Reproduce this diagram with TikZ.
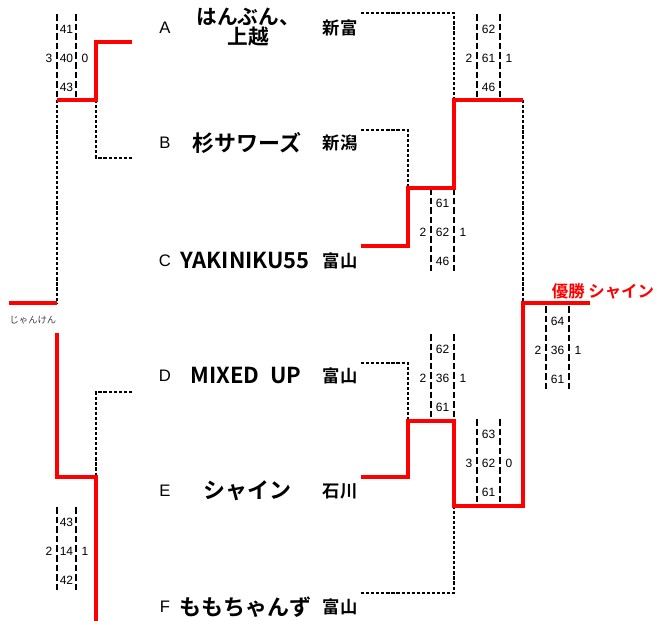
\documentclass[tikz,border=0pt]{standalone}
\usepackage{fontspec}
\setmainfont{Liberation Sans}
\newfontfamily\jpbold{Noto Sans CJK JP Bold}
\newfontfamily\jpreg{Noto Sans CJK JP}
\newcommand{\sz}[1]{\fontsize{#1}{#1}\selectfont}

\begin{document}
\begin{tikzpicture}[x=0.75pt,y=-0.75pt,
	win/.style={draw=red,line width=2.3pt},
	lose/.style={draw=black,line width=1.1pt,dash pattern=on 2.4pt off 1.4pt},
	rule/.style={draw=black,line width=1.6pt,dash pattern=on 5pt off 2.2pt},
	letter/.style={inner sep=0pt,font=\sz{12.5}},
	team/.style={inner sep=0pt,align=center,font=\jpbold\sz{16.5}},
	pref/.style={inner sep=0pt,font=\jpbold\sz{13}},
	num/.style={inner sep=0pt,font=\sz{9}}]
\useasboundingbox (0,0) rectangle (658,621);

% teams
\foreach \t/\y/\p in {A/28/新富,B/143/新潟,C/261/富山,D/376/富山,E/491/石川,F/607/富山}{
	\node[letter] (l\t) at (165,\y) {\t};
	\node[pref] (p\t) at (340,\y) {\p};
}
\node[team,font=\jpbold\sz{15.5}] (tA) at (248,27) {はんぶん、\\上越};
\node[team] (tB) at (247,143) {杉サワーズ};
\node[team] (tC) at (245,261) {YAKINIKU55};
\node[team] (tD) at (246,376) {MIXED\hspace{0.5em}UP};
\node[team] (tE) at (247,491) {シャイン};
\node[team] (tF) at (245,607) {ももちゃんず};

% scores
\foreach \n/\xa/\xb/\m/\l/\a/\b/\c/\r in {ab/57/76/58/3/41/40/43/0,
	df/57/76/551/2/43/14/42/1, ac/477/500/58/2/62/61/46/1,
	bc/431/454/232/2/61/62/46/1, de/431/454/378/2/62/36/61/1,
	ef/477/500/463/3/63/62/61/0, fin/546/569/350/2/64/36/61/1}{
	\draw[rule] (\xa,\m-44) -- (\xa,\m+41);
	\draw[rule] (\xb,\m-44) -- (\xb,\m+41);
	\node[num] (\n-a) at ({(\xa+\xb)/2},\m-29) {\a};
	\node[num] (\n-b) at ({(\xa+\xb)/2},\m) {\b};
	\node[num] (\n-c) at ({(\xa+\xb)/2},\m+29) {\c};
	\node[num] (\n-l) at (\xa-8,\m) {\l};
	\node[num] (\n-r) at (\xb+9,\m) {\r};
}

% right half
\coordinate (rA) at (361,13);
\coordinate (rB) at (361,130);
\coordinate (rC) at (361,246);
\coordinate (rD) at (361,363);
\coordinate (rE) at (361,477);
\coordinate (rF) at (361,593);
\coordinate (jBC) at (408,188);
\coordinate (jAC) at (454,100);
\coordinate (jDE) at (408,421);
\coordinate (jDF) at (454,506);
\coordinate (top) at (523,100);
\coordinate (bot) at (523,506);
\coordinate (fin) at (523,303);
\coordinate (cup) at (590,303);
\draw[lose] (rA) -| (jAC);
\draw[lose] (rB) -| (jBC);
\draw[lose] (top) -- (fin);
\draw[lose] (rD) -| (jDE);
\draw[lose] (rF) -| (jDF);
\draw[win] (rC) -| (jBC) -| (jAC) -- (top);
\draw[win] (rE) -| (jDE) -| (jDF) -- (bot) -- (fin) -- (cup);
\node[text=red,inner sep=0pt,font=\jpbold\sz{12.3}] (champ) at (603,291) {優勝 シャイン};

% left half
\coordinate (sA) at (132,42);
\coordinate (sB) at (132,158);
\coordinate (sD) at (132,392);
\coordinate (sF) at (96,621);
\coordinate (jAB) at (96,100);
\coordinate (kAB) at (57,100);
\coordinate (jDFl) at (96,477);
\coordinate (kDF) at (57,477);
\coordinate (kJ) at (57,333);
\coordinate (left) at (57,303);
\coordinate (out) at (9,303);
\draw[lose] (sB) -| (jAB);
\draw[lose] (kAB) -- (left);
\draw[lose] (sD) -| (jDFl);
\draw[win] (sA) -| (jAB) -- (kAB);
\draw[win] (left) -- (out);
\draw[win] (sF) -- (jDFl) -- (kDF) -- (kJ);
\node[inner sep=0pt,text=black!75,font=\jpreg\sz{7}] (janken) at (33,320) {じゃんけん};
\end{tikzpicture}
\end{document}
